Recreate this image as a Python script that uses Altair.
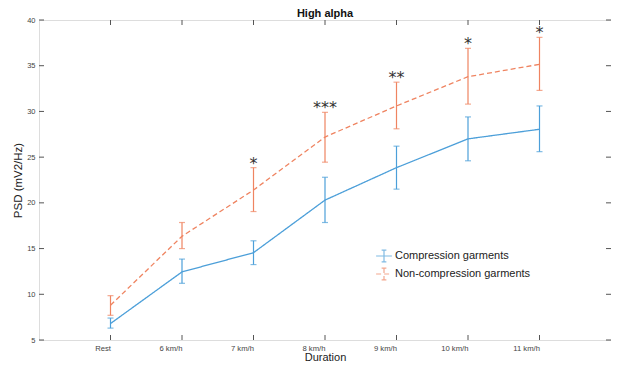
import altair as alt
import pandas as pd

categories = ["Rest", "6 km/h", "7 km/h", "8 km/h", "9 km/h", "10 km/h", "11 km/h"]
comp_mean = [6.8, 12.45, 14.55, 20.3, 23.85, 27.0, 28.05]
comp_lo = [6.3, 11.2, 13.25, 17.85, 21.5, 24.6, 25.6]
comp_hi = [7.4, 13.85, 15.85, 22.8, 26.2, 29.4, 30.6]
non_mean = [8.8, 16.35, 21.4, 27.2, 30.6, 33.8, 35.15]
non_lo = [7.7, 15.0, 19.05, 24.45, 28.1, 30.8, 32.3]
non_hi = [9.85, 17.85, 23.85, 29.9, 33.2, 36.9, 38.1]
stars = ["", "", "*", "***", "**", "*", "*"]
y_ticks = [5, 10, 15, 20, 25, 30, 35, 40]
series_names = ["Compression garments", "Non-compression garments"]
colors = ["#4c9fd9", "#ef8461"]

rows = []
for i, c in enumerate(categories):
    rows.append(dict(cat=c, series=series_names[0], mean=comp_mean[i], lo=comp_lo[i], hi=comp_hi[i], star=""))
    rows.append(dict(cat=c, series=series_names[1], mean=non_mean[i], lo=non_lo[i], hi=non_hi[i], star=stars[i]))
df = pd.DataFrame(rows)
star_df = df[df["star"] != ""]
tick_df = pd.DataFrame({"v": y_ticks})
cat_df = pd.DataFrame({"cat": categories})

W, H = 572, 320
xscale = alt.Scale(type="point", padding=1)
xs = alt.X("cat:N", sort=categories, scale=xscale,
           axis=alt.Axis(title="Duration", labelFontSize=7.7, labelColor="#444",
                         tickSize=0, domain=False, labelPadding=8, labelAngle=0,
                         titleFontSize=11, titleFontWeight="normal", titleColor="#222",
                         titlePadding=0))
ys = alt.Y("mean:Q", scale=alt.Scale(domain=[5, 40], nice=False, zero=False),
           axis=alt.Axis(title="PSD (mV2/Hz)", values=y_ticks, labelFontSize=7.5, labelColor="#444",
                         tickSize=0, domain=False, grid=False, labelPadding=4,
                         titleFontSize=11.5, titleFontWeight="normal", titleColor="#222",
                         titlePadding=3))

leg = alt.Legend(title=None, orient="none", legendX=336, legendY=227,
                 labelFontSize=11, labelColor="#222", symbolSize=250,
                 symbolStrokeWidth=1.2, rowPadding=0, labelOffset=2,
                 symbolType="M-1,0H1M0,-0.75V0.75M-0.3,-0.75H0.3M-0.3,0.75H0.3",
                 labelLimit=300)
color = alt.Color("series:N", scale=alt.Scale(domain=series_names, range=colors), legend=leg)
dash = alt.StrokeDash("series:N", scale=alt.Scale(domain=series_names, range=[[1, 0], [5, 3]]),
                      legend=leg)

lines = alt.Chart(df).mark_line(strokeWidth=1.3).encode(x=xs, y=ys, color=color, strokeDash=dash)
errs = alt.Chart(df).mark_errorbar(ticks=alt.MarkConfig(size=6), thickness=1.2).encode(
    x=alt.X("cat:N", sort=categories, scale=xscale),
    y=alt.Y("lo:Q", title="PSD (mV2/Hz)"), y2="hi:Q",
    color=color)
text = alt.Chart(star_df).mark_text(font="DejaVu Sans", fontSize=16, color="#333",
                                    baseline="alphabetic", dy=1).encode(
    x=alt.X("cat:N", sort=categories, scale=xscale),
    y=alt.Y("hi:Q"), text="star:N")

ytick_l = alt.Chart(tick_df).mark_rule(color="#555", strokeWidth=1).encode(
    y=alt.Y("v:Q"), x=alt.value(0), x2=alt.value(5))
ytick_r = alt.Chart(tick_df).mark_rule(color="#555", strokeWidth=1).encode(
    y=alt.Y("v:Q"), x=alt.value(W - 5), x2=alt.value(W))
xtick_b = alt.Chart(cat_df).mark_rule(color="#555", strokeWidth=1).encode(
    x=alt.X("cat:N", sort=categories, scale=xscale),
    y=alt.value(H - 5), y2=alt.value(H))
xtick_t = alt.Chart(cat_df).mark_rule(color="#555", strokeWidth=1).encode(
    x=alt.X("cat:N", sort=categories, scale=xscale),
    y=alt.value(0), y2=alt.value(5))

chart = alt.layer(ytick_l, ytick_r, xtick_b, xtick_t, errs, lines, text).properties(
    width=W, height=H,
    title=alt.TitleParams("High alpha", fontSize=11, fontWeight="bold", color="#111",
                          font="Liberation Sans", offset=2, dy=5),
    autosize=alt.AutoSizeParams(type="none"),
    padding={"left": 31, "top": 12, "right": 0, "bottom": 24},
).configure_view(stroke="#5a5a5a", strokeWidth=1).configure(
    font="Liberation Sans", background="white")

chart.save("out.html", embed_options={"renderer": "svg", "actions": False})
